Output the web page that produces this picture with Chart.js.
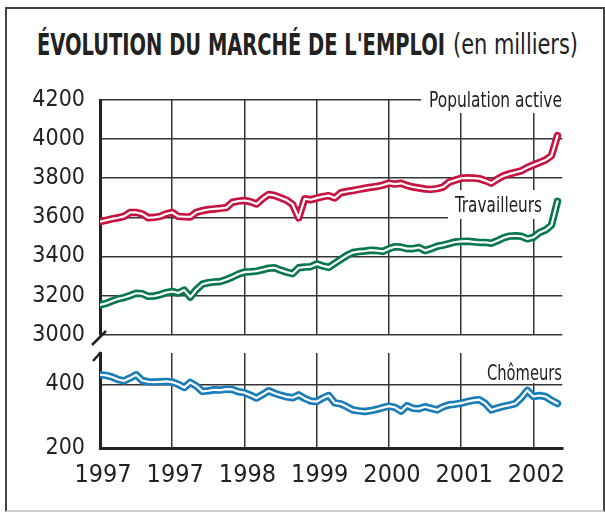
<!DOCTYPE html>
<html>
<head>
<meta charset="utf-8">
<script src="https://cdn.jsdelivr.net/npm/chart.js@4.4.0/dist/chart.umd.min.js"></script>
<style>
  html, body { margin: 0; padding: 0; background: #fff; }
  #page { position: relative; width: 605px; height: 512px; overflow: hidden; background: #fff; }
  #frame { position: absolute; left: 5px; top: 7px; width: 596px; height: 501px;
           border: 2px solid #444; border-bottom-color: #ccc; }
  .title { position: absolute; white-space: nowrap; transform-origin: 0 0; color: #222;
           font-family: 'DejaVu Sans Condensed', 'DejaVu Sans', sans-serif; }
  #t1 { left: 37px; top: 30px; font-weight: bold; font-size: 30px; line-height: 30px; }
  #t2 { left: 453px; top: 31px; font-size: 28px; line-height: 28px; }
  canvas { position: absolute; left: 0; top: 0; }
</style>
</head>
<body>
<div id="page">
  <div id="frame"></div>
  <span class="title" id="t1">ÉVOLUTION DU MARCHÉ DE L'EMPLOI</span>
  <span class="title" id="t2">(en milliers)</span>
  <canvas id="bottomChart" width="605" height="512"></canvas>
  <canvas id="topChart" width="605" height="512"></canvas>
</div>
<script>
// tick labels as printed on the chart (one per year gridline)
const yearLabels = ['1997', '1997', '1998', '1999', '2000', '2001', '2002'];
const upperTicks = [3000, 3200, 3400, 3600, 3800, 4000, 4200];
const lowerTicks = [200, 400];

// monthly values
const popActive = [
  3578, 3585, 3592, 3598, 3605, 3625, 3625, 3618, 3598, 3600, 3605, 3618,
  3625, 3605, 3603, 3602, 3626, 3634, 3640, 3643, 3646, 3650, 3677, 3683,
  3686, 3680, 3668, 3695, 3717, 3712, 3700, 3688, 3666, 3597, 3695, 3690,
  3698, 3706, 3711, 3699, 3726, 3732, 3737, 3743, 3749, 3754, 3758, 3765,
  3775, 3770, 3774, 3763, 3755, 3750, 3745, 3743, 3747, 3755, 3780, 3790,
  3800, 3802, 3801, 3798, 3788, 3775, 3795, 3812, 3822, 3830, 3838, 3855,
  3868, 3880, 3893, 3915, 4018
];
const travailleurs = [
  3152, 3160, 3172, 3183, 3190, 3200, 3212, 3210, 3196, 3198, 3205, 3215,
  3221, 3213, 3228, 3192, 3230, 3258, 3266, 3270, 3272, 3282, 3295, 3310,
  3320, 3322, 3325, 3332, 3340, 3342, 3330, 3320, 3312, 3342, 3346, 3348,
  3362, 3352, 3344, 3365, 3385, 3405, 3420, 3425, 3428, 3432, 3430, 3426,
  3440, 3450, 3448, 3440, 3440, 3446, 3430, 3440, 3452, 3458, 3466, 3474,
  3477, 3478, 3475, 3472, 3472, 3468, 3480, 3495, 3504, 3506, 3503, 3490,
  3498, 3522, 3535, 3560, 3682
];
const chomeurs = [
  430, 428, 423, 415, 411, 420, 430, 412, 408, 407, 408, 409,
  407, 400, 390, 406, 395, 378, 380, 383, 382, 385, 384, 377,
  374, 366, 357, 368, 380, 372, 366, 361, 358, 367, 356, 348,
  346, 357, 365, 342, 339, 330, 320, 317, 315, 318, 322, 327,
  332, 328, 316, 333, 325, 324, 330, 325, 320, 330, 336, 338,
  341, 346, 350, 352, 340, 320, 326, 331, 335, 340, 358, 381,
  362, 365, 362, 350, 340
];
const months = popActive.map((_, i) => i);

const RED = '#c5143f';
const GREEN = '#08774c';
const BLUE = '#1a7db8';
const GRID = '#353535';
const INK = '#222';

function seriesSets(values, color) {
  return [
    { data: values.map((v, i) => ({ x: months[i], y: v })), borderColor: '#fff', borderWidth: 2.2, order: 0 },
    { data: values.map((v, i) => ({ x: months[i], y: v })), borderColor: color, borderWidth: 7.5, order: 1 }
  ].map(d => Object.assign(d, {
    pointRadius: 0, tension: 0, fill: false,
    borderCapStyle: 'round', borderJoinStyle: 'round'
  }));
}

function yearTicks(scale) {
  scale.ticks = yearLabels.map((_, i) => ({ value: i * 12 }));
}

// white boxes behind the series names, names, and axis break marks
const decor = {
  id: 'decor',
  beforeDatasetsDraw(chart, args, opts) {
    const ctx = chart.ctx;
    (opts.labels || []).forEach(l => {
      ctx.save();
      ctx.fillStyle = '#fff';
      ctx.fillRect(l.box[0], l.box[1], l.box[2] - l.box[0], l.box[3] - l.box[1]);
      ctx.fillStyle = INK;
      ctx.font = '21px "DejaVu Sans Condensed", "DejaVu Sans", sans-serif';
      ctx.textAlign = 'right';
      ctx.textBaseline = 'alphabetic';
      ctx.fillText(l.text, l.x, l.y, l.w);
      ctx.restore();
    });
  },
  afterDraw(chart, args, opts) {
    const ctx = chart.ctx;
    (opts.breaks || []).forEach(b => {
      ctx.save();
      ctx.strokeStyle = INK;
      ctx.lineWidth = 2.5;
      ctx.beginPath();
      ctx.moveTo(b[0], b[1]);
      ctx.lineTo(b[2], b[3]);
      ctx.stroke();
      ctx.restore();
    });
  }
};

const yFont = { family: '"DejaVu Sans Condensed", "DejaVu Sans", sans-serif', size: 23 };
const xFont = { family: '"Liberation Sans Narrow", "DejaVu Sans Condensed", sans-serif', size: 25 };
const plain = v => String(v);

new Chart(document.getElementById('topChart'), {
  type: 'line',
  data: { datasets: seriesSets(popActive, RED).concat(seriesSets(travailleurs, GREEN)) },
  plugins: [decor],
  options: {
    responsive: false,
    animation: false,
    layout: { padding: { left: 0, top: 100, right: 42.7, bottom: 177.3 } },
    plugins: {
      legend: { display: false },
      tooltip: { enabled: false },
      decor: {
        labels: [
          { text: 'Population active', x: 562, y: 107, w: 133, box: [421, 86, 566, 113] },
          { text: 'Travailleurs', x: 542, y: 212, w: 87, box: [448, 190, 566, 219] }
        ],
        breaks: [[92, 345, 106, 331]]
      }
    },
    scales: {
      x: {
        type: 'linear', min: 0, max: 76.8,
        afterBuildTicks: yearTicks,
        afterFit: s => { s.height = 0; },
        ticks: { display: false },
        grid: { color: GRID, lineWidth: 1.5, drawTicks: false },
        border: { display: false }
      },
      y: {
        min: 3000, max: 4200,
        afterBuildTicks: s => { s.ticks = upperTicks.map(v => ({ value: v })); },
        afterFit: s => { s.width = 100; },
        ticks: { color: INK, font: yFont, padding: 15, callback: plain },
        grid: { color: GRID, lineWidth: 1.5, drawTicks: false },
        border: { color: INK, width: 3 }
      }
    }
  }
});

new Chart(document.getElementById('bottomChart'), {
  type: 'line',
  data: { datasets: seriesSets(chomeurs, BLUE) },
  plugins: [decor],
  options: {
    responsive: false,
    animation: false,
    layout: { padding: { left: 0, top: 353, right: 42.7, bottom: 0 } },
    plugins: {
      legend: { display: false },
      tooltip: { enabled: false },
      decor: {
        labels: [
          { text: 'Chômeurs', x: 562, y: 380, w: 75, box: [482, 352, 566, 383] }
        ],
        breaks: [[93, 361, 101, 352]]
      }
    },
    scales: {
      x: {
        type: 'linear', min: 0, max: 76.8,
        afterBuildTicks: yearTicks,
        afterFit: s => { s.height = 512 - 448.3; },
        ticks: {
          color: INK, font: xFont, padding: 12.5, labelOffset: 3, maxRotation: 0,
          callback: v => yearLabels[Math.round(v / 12)]
        },
        grid: { color: GRID, lineWidth: 1.5, drawTicks: false },
        border: { color: INK, width: 3 }
      },
      y: {
        min: 200, max: 498,
        afterBuildTicks: s => { s.ticks = lowerTicks.map(v => ({ value: v })); },
        afterFit: s => { s.width = 100; },
        ticks: { color: INK, font: yFont, padding: 15, callback: plain },
        grid: { color: GRID, lineWidth: 1.5, drawTicks: false },
        border: { color: INK, width: 3 }
      }
    }
  }
});

// squeeze the title to the width it has on the original
function fitWidth(id, w) {
  const el = document.getElementById(id);
  el.style.transform = 'scaleX(' + (w / el.getBoundingClientRect().width) + ')';
}
fitWidth('t1', 408);
fitWidth('t2', 125);
</script>
</body>
</html>
